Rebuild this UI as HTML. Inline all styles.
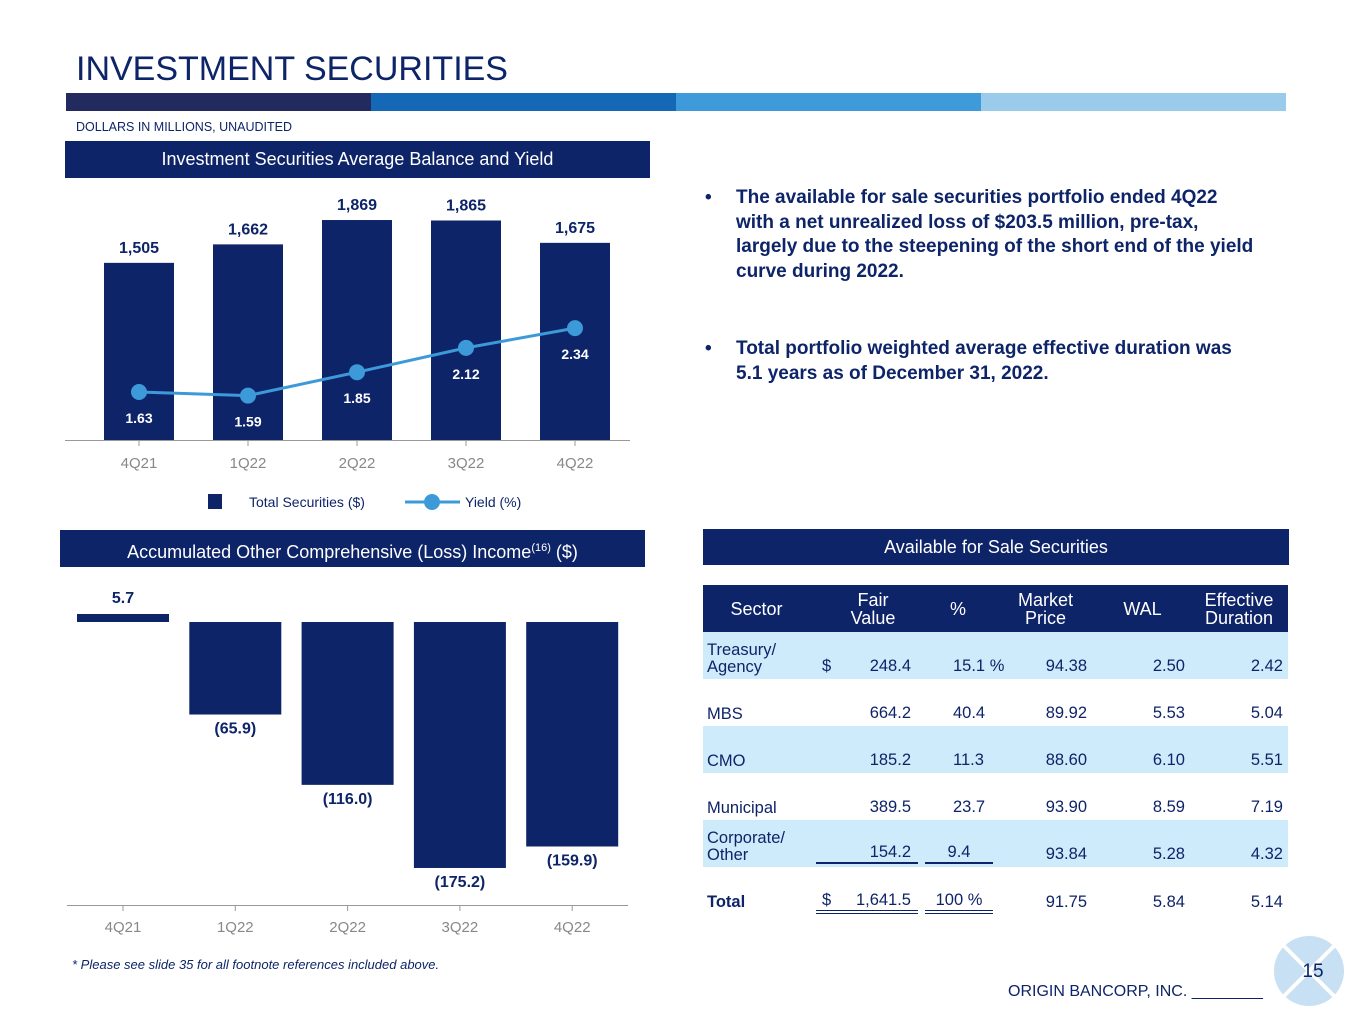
<!DOCTYPE html>
<html><head><meta charset="utf-8"><style>
body{margin:0;width:1365px;height:1024px;background:#fff;font-family:"Liberation Sans",Arial,sans-serif;position:relative;overflow:hidden}
.abs{position:absolute}
.hdr{position:absolute;background:#0e2469;color:#fff;font-size:18px;text-align:center}
table{border-collapse:collapse;table-layout:fixed}
td{padding:0}
</style></head><body>
<div class="abs" style="left:76px;top:50px;font-size:34px;color:#0e2469">INVESTMENT SECURITIES</div>
<div class="abs" style="left:66px;top:93px;width:1220px;height:18px;display:flex">
<div style="flex:1;background:#232b5e"></div><div style="flex:1;background:#1568b5"></div><div style="flex:1;background:#3f9ad9"></div><div style="flex:1;background:#9acbeb"></div></div>
<div class="abs" style="left:76px;top:120px;font-size:12.5px;color:#0e2469">DOLLARS IN MILLIONS, UNAUDITED</div>
<div class="hdr" style="left:65px;top:141px;width:585px;height:37px;line-height:37px">Investment Securities Average Balance and Yield</div>
<div class="hdr" style="left:60px;top:530px;width:585px;height:37px;line-height:37px">Accumulated Other Comprehensive (Loss) Income<sup style="font-size:11px">(16)</sup> ($)</div>
<div class="hdr" style="left:703px;top:529px;width:586px;height:36px;line-height:36px">Available for Sale Securities</div>

<div class="abs" style="left:705px;top:186px;width:560px;font-size:19px;font-weight:bold;color:#0e2469;line-height:24.5px">
<div style="display:flex"><span style="width:31px">•</span><span style="width:520px">The available for sale securities portfolio ended 4Q22 with a net unrealized loss of $203.5 million, pre-tax, largely due to the steepening of the short end of the yield curve during 2022.</span></div>
<div style="display:flex;margin-top:53px"><span style="width:31px">•</span><span style="width:520px">Total portfolio weighted average effective duration was 5.1 years as of December 31, 2022.</span></div>
</div>

<svg class="abs" style="left:0;top:0" width="1365" height="1024">
<g id="c1"></g><g id="c2"></g>
<g>
<rect x="208" y="494" width="14" height="15" fill="#0e2469"/>
<text x="249" y="507" font-size="14" fill="#0e2469">Total Securities ($)</text>
<line x1="405" y1="502" x2="460" y2="502" stroke="#3d9ad9" stroke-width="3"/>
<circle cx="432" cy="502" r="8" fill="#3d9ad9"/>
<text x="465" y="507" font-size="14" fill="#0e2469">Yield (%)</text>
</g>
</svg>

<table class="abs" style="left:703px;top:585px;width:585px;font-size:16.5px;color:#0e2469">
<colgroup><col style="width:107px"><col style="width:110px"><col style="width:76px"><col style="width:99px"><col style="width:95px"><col style="width:98px"></colgroup>
<tr style="background:#0e2469;color:#fff;height:47px;font-size:18px;line-height:18px">
<td style="text-align:center">Sector</td><td style="text-align:center;padding-left:16px">Fair<br>Value</td><td style="text-align:center">%</td><td style="text-align:center">Market<br>Price</td><td style="text-align:center">WAL</td><td style="text-align:center">Effective<br>Duration</td></tr>
<tbody id="tb"></tbody>
</table>

<div class="abs" style="left:72px;top:957px;font-size:13px;font-style:italic;color:#0e2469">* Please see slide 35 for all footnote references included above.</div>
<div class="abs" style="left:1008px;top:983px;font-size:16px;color:#0e2469">ORIGIN BANCORP, INC. ________</div>
<svg class="abs" style="left:1273px;top:935px" width="72" height="72">
<circle cx="36" cy="36" r="35" fill="#c7e0f3"/><line x1="10" y1="10" x2="62" y2="62" stroke="#fff" stroke-width="4"/><line x1="62" y1="10" x2="10" y2="62" stroke="#fff" stroke-width="4"/>
<text x="40" y="42" font-size="19" fill="#0e2469" text-anchor="middle">15</text></svg>

<script>
const quarters=["4Q21","1Q22","2Q22","3Q22","4Q22"];
const balances=[1505,1662,1869,1865,1675];
const balanceLabels=["1,505","1,662","1,869","1,865","1,675"];
const yields=[1.63,1.59,1.85,2.12,2.34];
const aoci=[5.7,-65.9,-116.0,-175.2,-159.9];
const aociLabels=["5.7","(65.9)","(116.0)","(175.2)","(159.9)"];
const sectors=["Treasury/<br>Agency","MBS","CMO","Municipal","Corporate/<br>Other","Total"];
const fairValues=["248.4","664.2","185.2","389.5","154.2","1,641.5"];
const pcts=["15.1 %","40.4","11.3","23.7","9.4","100 %"];
const prices=["94.38","89.92","88.60","93.90","93.84","91.75"];
const wals=["2.50","5.53","6.10","8.59","5.28","5.84"];
const durs=["2.42","5.04","5.51","7.19","4.32","5.14"];
const NS="http://www.w3.org/2000/svg";
function mk(p,t,a,txt){const e=document.createElementNS(NS,t);for(const k in a)e.setAttribute(k,a[k]);if(txt!==undefined)e.textContent=txt;p.appendChild(e);return e;}
const c1=document.getElementById('c1');
const x1=i=>139+i*109, yb=v=>440-v*0.1177, yy=v=>538.7-90*v;
mk(c1,'line',{x1:65,y1:440.5,x2:630,y2:440.5,stroke:'#999'});
quarters.forEach((q,i)=>{
 const b=mk(c1,'rect',{x:x1(i)-35,y:yb(balances[i]),width:70,height:440-yb(balances[i]),fill:'#0e2469'});
 
 
 mk(c1,'text',{x:x1(i),y:yb(balances[i])-10,'font-size':16,'font-weight':'bold',fill:'#0e2469','text-anchor':'middle'},balanceLabels[i]);
 mk(c1,'line',{x1:x1(i),y1:440,x2:x1(i),y2:446,stroke:'#999'});
 mk(c1,'text',{x:x1(i),y:468,'font-size':15,fill:'#888','text-anchor':'middle'},q);
});
let d='';quarters.forEach((q,i)=>{d+=(i?'L':'M')+x1(i)+' '+yy(yields[i]);});
mk(c1,'path',{d:d,stroke:'#3d9ad9','stroke-width':3,fill:'none'});
quarters.forEach((q,i)=>{
 const c=mk(c1,'circle',{cx:x1(i),cy:yy(yields[i]),r:8,fill:'#3d9ad9'});
 
 
 mk(c1,'text',{x:x1(i),y:yy(yields[i])+31,'font-size':14,'font-weight':'bold',fill:'#fff','text-anchor':'middle'},yields[i].toFixed(2));
});
const c2=document.getElementById('c2');
const x2=i=>123+i*112.3, ya=v=>622-v*1.404;
quarters.forEach((q,i)=>{
 const v=aoci[i],top=Math.min(ya(v),622),h=Math.abs(v*1.404);
 const b=mk(c2,'rect',{x:x2(i)-46,y:top,width:92,height:h,fill:'#0e2469'});
 
 
 const ly=v>=0?top-11:top+h+19;
 mk(c2,'text',{x:x2(i),y:ly,'font-size':16,'font-weight':'bold',fill:'#0e2469','text-anchor':'middle'},aociLabels[i]);
 mk(c2,'line',{x1:x2(i),y1:905,x2:x2(i),y2:911,stroke:'#999'});
 mk(c2,'text',{x:x2(i),y:932,'font-size':15,fill:'#888','text-anchor':'middle'},q);
});
mk(c2,'line',{x1:67,y1:905.5,x2:628,y2:905.5,stroke:'#999'});
const tb=document.getElementById('tb');
sectors.forEach((s,i)=>{
 const tr=document.createElement('tr');
 
 
 const tot=i==5;
 tr.style.height=tot?'70px':'47px';
 tr.style.background=(i%2==0&&!tot)?'#cdebfb':'#fff';
 const ul=i==4?'border-bottom:2px solid #0e2469;':tot?'border-bottom:4px double #0e2469;':'';
 const dol=(i==0||tot)?'$':'';
 const va=tot?'middle':'bottom';
 const pb=tot?'0':'3px';
 const cen=(i==4||tot);
 tr.innerHTML=`<td style="vertical-align:${va};padding:0 0 ${pb} 4px;line-height:17px;${tot?'font-weight:bold;':''}">${s}</td>`+
 `<td style="vertical-align:${va};padding-bottom:${pb}"><div style="${ul}display:flex;justify-content:space-between;margin:0 2px 0 6px;padding:0 7px 0 6px"><span>${dol}</span><span>${fairValues[i]}</span></div></td>`+
 `<td style="vertical-align:${va};padding-bottom:${pb}"><div style="${ul}white-space:nowrap;margin:0 3px 0 5px;text-align:${cen?'center':'left'};padding-left:${cen?0:28}px">${pcts[i]}</div></td>`+
 [[prices[i],8],[wals[i],5],[durs[i],5]].map(v=>`<td style="text-align:right;padding:0 ${v[1]}px ${pb} 0;vertical-align:${va}">${v[0]}</td>`).join('');
 tb.appendChild(tr);
});
</script>
</body></html>
